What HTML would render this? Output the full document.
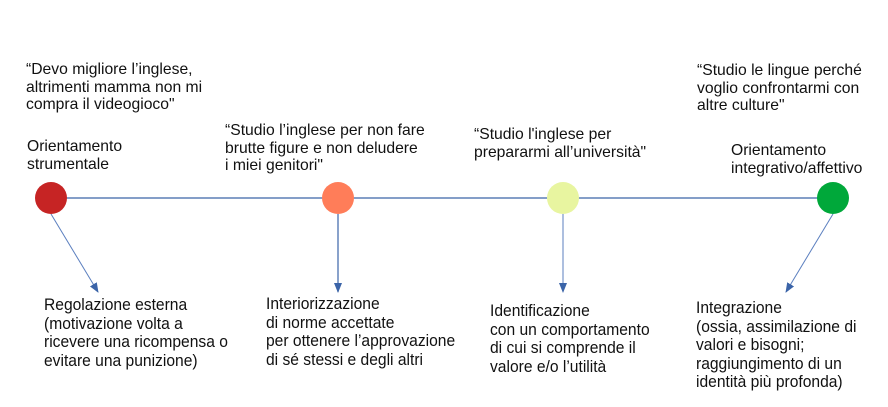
<!DOCTYPE html>
<html><head><meta charset="utf-8"><style>
body{margin:0;width:888px;height:407px;background:#fff;position:relative;overflow:hidden;font-family:"Liberation Sans",sans-serif;color:#111}
.t{position:absolute;white-space:pre;font-size:15.7px;line-height:17.5px}
.b{position:absolute;white-space:pre;font-size:16.8px;line-height:18.5px;transform:scaleX(0.93);transform-origin:0 0}
</style></head><body>
<svg width="888" height="407" style="position:absolute;left:0;top:0">
<defs>
<marker id="m" markerWidth="10" markerHeight="10" refX="9" refY="5" orient="auto" markerUnits="userSpaceOnUse"><path d="M0,1 L10,5 L0,9 Z" fill="#3b64a8"/></marker></defs>
<line x1="51" y1="198" x2="833" y2="198" stroke="#3b64a8" stroke-width="1.3"/>
<line x1="51" y1="214" x2="98" y2="292" stroke="#5b7fbf" stroke-width="1" marker-end="url(#m)"/>
<line x1="338" y1="214" x2="338" y2="292" stroke="#3b64a8" stroke-width="1.2" marker-end="url(#m)"/>
<line x1="563" y1="214" x2="563" y2="292" stroke="#5b7fbf" stroke-width="1" marker-end="url(#m)"/>
<line x1="833" y1="214" x2="786" y2="292" stroke="#5b7fbf" stroke-width="1" marker-end="url(#m)"/>
<circle cx="51" cy="198" r="16" fill="#c62424"/>
<circle cx="338" cy="198" r="16" fill="#ff7d59"/>
<circle cx="563" cy="198" r="16" fill="#e8f5a0"/>
<circle cx="833" cy="198" r="16" fill="#00a83a"/>
</svg>
<div class="t" style="left:26px;top:61px">“Devo migliore l’inglese,
altrimenti mamma non mi
compra il videogioco"</div>
<div class="t" style="left:27px;top:138px">Orientamento
strumentale</div>
<div class="t" style="left:225px;top:122px">“Studio l’inglese per non fare
brutte figure e non deludere
i miei genitori"</div>
<div class="t" style="left:474px;top:126px">“Studio l'inglese per
prepararmi all’università"</div>
<div class="t" style="left:697px;top:62px">“Studio le lingue perché
voglio confrontarmi con
altre culture"</div>
<div class="t" style="left:731px;top:142px">Orientamento
integrativo/affettivo</div>
<div class="b" style="left:44px;top:296px">Regolazione esterna
(motivazione volta a
ricevere una ricompensa o
evitare una punizione)</div>
<div class="b" style="left:266px;top:295px">Interiorizzazione
di norme accettate
per ottenere l’approvazione
di sé stessi e degli altri</div>
<div class="b" style="left:490px;top:302px">Identificazione
con un comportamento
di cui si comprende il
valore e/o l’utilità</div>
<div class="b" style="left:696px;top:299px">Integrazione
(ossia, assimilazione di
valori e bisogni;
raggiungimento di un
identità più profonda)</div>
</body></html>
